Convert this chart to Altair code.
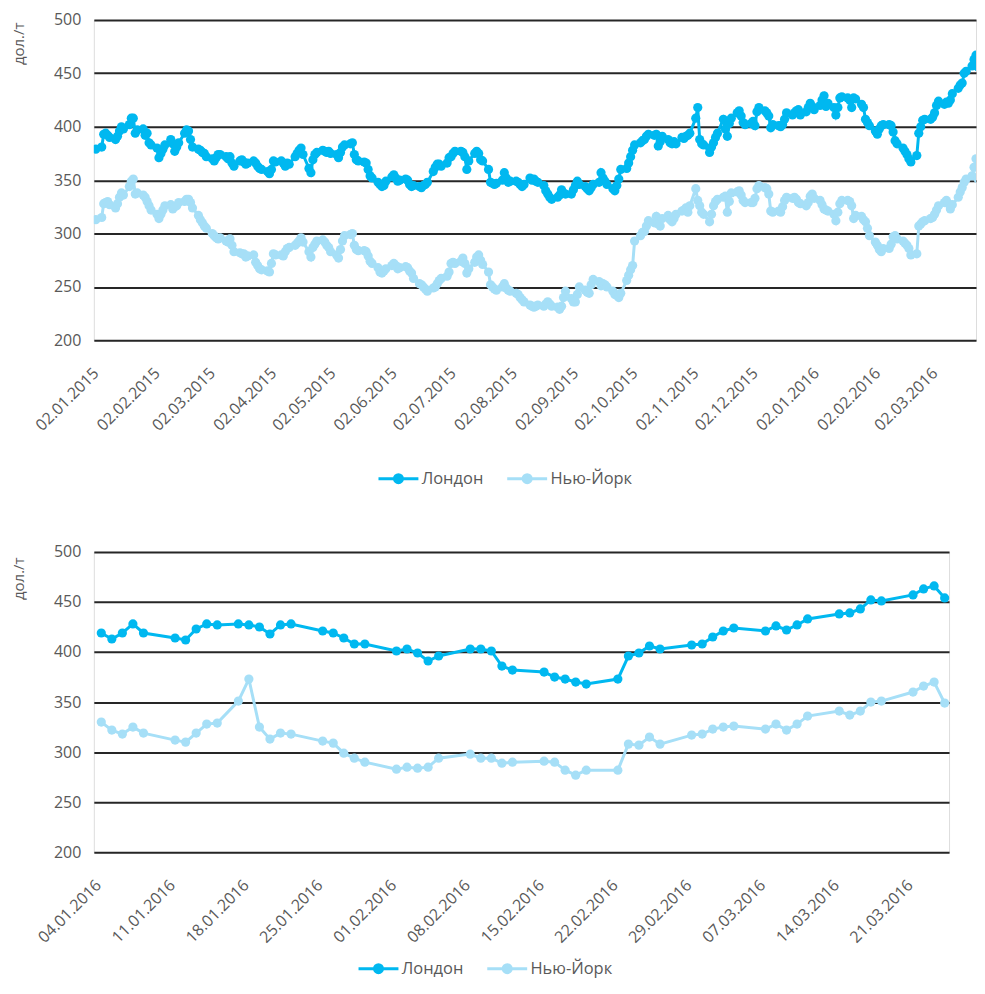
import altair as alt
import pandas as pd

series_names = ["Лондон", "Нью-Йорк"]
series_colors = ["#00B8F0", "#A6DFF7"]
y_ticks = [200, 250, 300, 350, 400, 450, 500]
unit_label = "дол./т"

# ---------- top chart: daily quotes, 02.01.2015 - 24.03.2016 (business days) ----------
top_london = [
    379,
    381, 393, 394, 392, 390,
    388, 391, 396, 400, 398,
    402, 408, 408, 394, 397,
    398, 392, 394, 385, 383,
    380, 371, 375, 379, 383,
    388, 384, 377, 381, 385,
    394, 397, 396, 388, 381,
    379, 378, 376, 375, 372,
    370, 368, 371, 374, 374,
    372, 370, 372, 366, 363,
    368, 369, 367, 365, 366,
    368, 366, 363, 361, 360,
    358, 356, 360, 368, 367,
    368, 366, 363, 366, 365,
    372, 375, 378, 380, 374,
    361, 357, 369, 374, 376,
    378, 377, 376, 377, 375,
    374, 371, 376, 381, 383,
    384, 385, 374, 369, 368,
    367, 366, 360, 354, 352,
    348, 346, 344, 345, 349,
    353, 355, 352, 349, 350,
    351, 350, 346, 344, 345,
    344, 343, 345, 346, 348,
    358, 362, 365, 365, 363,
    366, 371, 372, 375, 377,
    377, 376, 372, 360, 368,
    375, 377, 375, 369, 368,
    360, 348, 347, 346, 347,
    350, 357, 352, 348, 349,
    349, 348, 346, 344, 346,
    352, 350, 351, 349, 348,
    345, 340, 337, 334, 332,
    334, 336, 341, 338, 337,
    337, 341, 345, 349, 346,
    344, 342, 340, 343, 346,
    348, 357, 352, 349, 346,
    342, 340, 345, 351, 360,
    361, 366, 372, 378, 383,
    385, 387, 388, 391, 393,
    392, 393, 382, 386, 391,
    388, 385, 384, 386, 384,
    390, 389, 391, 392, 394,
    408, 418, 388, 384, 383,
    376, 381, 385, 390, 394,
    407, 398, 391, 403, 408,
    413, 415, 410, 404, 402,
    403, 405, 401, 414, 418,
    415, 413, 410, 399, 402,
    401, 400, 402, 407, 413,
    411, 413, 415, 416, 411,
    414, 418, 422, 419, 416,
    420, 425, 429, 419, 422,
    418, 411, 418, 427, 428,
    427, 425, 418, 427, 426,
    421, 418, 407, 404, 401,
    396, 393, 398, 401, 402,
    402, 401, 395, 387, 384,
    380, 377, 374, 370, 367,
    373, 394, 400, 406, 407,
    407, 409, 413, 420, 424,
    421, 423, 422, 425, 431,
    436, 439, 441, 450, 452,
    457, 463, 467, 456,
]
top_new_york = [
    313,
    315, 328, 329, 330, 327,
    324, 328, 334, 338, 336,
    344, 349, 351, 337, 338,
    336, 334, 330, 326, 322,
    318, 314, 318, 322, 326,
    327, 323, 325, 326, 329,
    330, 332, 332, 329, 324,
    317, 313, 310, 307, 305,
    300, 298, 296, 295, 296,
    293, 292, 295, 289, 283,
    282, 281, 281, 278, 279,
    280, 273, 270, 267, 266,
    265, 264, 272, 281, 280,
    280, 279, 283, 286, 287,
    289, 291, 293, 296, 292,
    283, 278, 287, 290, 293,
    294, 292, 289, 287, 283,
    280, 277, 285, 293, 298,
    299, 300, 289, 285, 284,
    284, 283, 279, 274, 272,
    268, 264, 263, 265, 267,
    270, 272, 270, 267, 268,
    269, 268, 265, 263, 258,
    253, 252, 250, 248, 246,
    249, 250, 253, 256, 258,
    260, 264, 272, 273, 272,
    274, 277, 272, 263, 267,
    273, 278, 280, 275, 271,
    264, 252, 250, 248, 247,
    250, 253, 249, 247, 246,
    244, 243, 240, 238, 236,
    233, 232, 231, 232, 233,
    232, 234, 236, 234, 232,
    231, 229, 232, 240, 246,
    239, 236, 236, 243, 250,
    247, 245, 244, 252, 257,
    255, 251, 253, 252, 250,
    246, 243, 242, 240, 244,
    256, 261, 266, 270, 293,
    298, 301, 302, 307, 312,
    310, 316, 309, 307, 314,
    317, 313, 311, 314, 318,
    321, 322, 324, 320, 326,
    342, 331, 326, 320, 318,
    311, 318, 326, 330, 332,
    334, 335, 320, 330, 338,
    339, 340, 336, 331, 329,
    329, 329, 333, 342, 345,
    343, 342, 337, 321, 320,
    321, 320, 325, 331, 334,
    333, 334, 332, 329, 328,
    326, 329, 335, 337, 333,
    331, 327, 323, 322, 321,
    318, 312, 320, 328, 331,
    331, 330, 326, 314, 317,
    316, 313, 311, 305, 298,
    292, 289, 285, 283, 286,
    286, 290, 297, 298, 295,
    293, 291, 289, 286, 280,
    281, 307, 309, 311, 312,
    314, 315, 318, 322, 326,
    329, 331, 328, 323, 327,
    334, 339, 343, 348, 351,
    354, 362, 370, 351,
]
top_dates = [d.strftime("%Y-%m-%d") for d in pd.bdate_range("2015-01-02", "2016-03-24")]
top_tick_dates = [(2015, m, 2) for m in range(1, 13)] + [(2016, 1, 2), (2016, 2, 2), (2016, 3, 2)]

# ---------- bottom chart: 04.01.2016 - 24.03.2016 ----------
bottom_dates = [
    "2016-01-04", "2016-01-05", "2016-01-06", "2016-01-07", "2016-01-08",
    "2016-01-11", "2016-01-12", "2016-01-13", "2016-01-14", "2016-01-15",
    "2016-01-17", "2016-01-18", "2016-01-19", "2016-01-20", "2016-01-21", "2016-01-22",
    "2016-01-25", "2016-01-26", "2016-01-27", "2016-01-28", "2016-01-29",
    "2016-02-01", "2016-02-02", "2016-02-03", "2016-02-04", "2016-02-05",
    "2016-02-08", "2016-02-09", "2016-02-10", "2016-02-11", "2016-02-12",
    "2016-02-15", "2016-02-16", "2016-02-17", "2016-02-18", "2016-02-19",
    "2016-02-22", "2016-02-23", "2016-02-24", "2016-02-25", "2016-02-26",
    "2016-02-29", "2016-03-01", "2016-03-02", "2016-03-03", "2016-03-04",
    "2016-03-07", "2016-03-08", "2016-03-09", "2016-03-10", "2016-03-11",
    "2016-03-14", "2016-03-15", "2016-03-16", "2016-03-17", "2016-03-18",
    "2016-03-21", "2016-03-22", "2016-03-23", "2016-03-24",
]
bottom_london = [
    419, 413, 419, 428, 419,
    414, 412, 423, 428, 427,
    428, 427, 425, 418, 427, 428,
    421, 419, 414, 408, 408,
    401, 403, 399, 391, 396,
    403, 403, 401, 386, 382,
    380, 375, 373, 370, 368,
    373, 396, 399, 406, 403,
    407, 408, 415, 421, 424,
    421, 426, 422, 427, 433,
    438, 439, 443, 452, 451,
    457, 463, 466, 454,
]
bottom_new_york = [
    330, 322, 318, 325, 319,
    312, 310, 319, 328, 329,
    351, 373, 325, 313, 319, 318,
    311, 309, 299, 294, 290,
    283, 285, 284, 285, 294,
    298, 294, 294, 289, 290,
    291, 290, 282, 277, 282,
    282, 308, 307, 315, 308,
    317, 318, 323, 325, 326,
    323, 328, 322, 328, 336,
    341, 337, 341, 350, 351,
    360, 366, 370, 349,
]
bottom_tick_dates = [
    (2016, 1, 4), (2016, 1, 11), (2016, 1, 18), (2016, 1, 25),
    (2016, 2, 1), (2016, 2, 8), (2016, 2, 15), (2016, 2, 22),
    (2016, 2, 29), (2016, 3, 7), (2016, 3, 14), (2016, 3, 21),
]

FONT = "Open Sans"
TEXT = "#595959"
GRID = "#262626"


def long_frame(dates, a, b):
    return pd.DataFrame({
        "date": list(dates) + list(dates),
        "value": list(a) + list(b),
        "series": [series_names[0]] * len(a) + [series_names[1]] * len(b),
    })


def dt(y, m, d, h=0):
    return alt.DateTime(year=y, month=m, date=d, hours=h, utc=True)


# legend glyph: a line with a dot in the middle (size 100 -> 5 px per path unit)
legend_symbol = "M-4,0L4,0M-0.8,0A0.8,0.8,0,1,1,0.8,0A0.8,0.8,0,1,1,-0.8,0Z"


def panel(df, width, height, domain, ticks, label_pad, label_off, title_y,
          legend_x, legend_y, clip):
    x_axis = alt.Axis(values=[dt(*t) for t in ticks],
                      labelExpr="utcFormat(datum.value, '%d.%m.%Y')",
                      labelAngle=-45, labelAlign="right", labelBaseline="middle",
                      labelPadding=label_pad, labelOffset=label_off, labelFont=FONT,
                      labelFontSize=16, labelColor=TEXT, labelOverlap=False,
                      labelFlush=False, ticks=False, domain=False, grid=False, title=None)
    y_axis = alt.Axis(values=y_ticks, grid=True, gridColor=GRID, gridWidth=2,
                      domain=False, ticks=False, labelPadding=13, labelFont=FONT,
                      labelFontSize=16, labelColor=TEXT, title=unit_label,
                      titleFont=FONT, titleFontSize=15, titleFontWeight="normal",
                      titleColor=TEXT, titleX=-75, titleY=title_y, titleAlign="right",
                      titleBaseline="middle", titleAngle=270)
    legend = alt.Legend(orient="none", legendX=legend_x, legendY=legend_y,
                        direction="horizontal", title=None, symbolType=legend_symbol,
                        symbolSize=100, symbolStrokeWidth=3, labelFont=FONT,
                        labelFontSize=16.5, labelColor=TEXT, labelOffset=15,
                        columnPadding=17, symbolOpacity=1)
    base = alt.Chart(df).encode(
        x=alt.X("date:T", scale=alt.Scale(type="utc", domain=[dt(*domain[0]), dt(*domain[1])]),
                axis=x_axis),
        y=alt.Y("value:Q", scale=alt.Scale(domain=[200, 500], nice=False, zero=False), axis=y_axis),
        color=alt.Color("series:N", scale=alt.Scale(domain=series_names, range=series_colors),
                        legend=legend),
    )
    line = base.mark_line(strokeWidth=3, clip=clip)
    pts = base.mark_point(filled=True, size=85, opacity=1, clip=clip)
    return alt.layer(line, pts).properties(width=width, height=height)


top = panel(long_frame(top_dates, top_london, top_new_york), 884, 321,
            ((2015, 1, 1, 0), (2016, 3, 23, 0)), top_tick_dates, 30, 0, 2, 297, 451, True)
bottom = panel(long_frame(bottom_dates, bottom_london, bottom_new_york), 857, 301,
               ((2016, 1, 3, 7), (2016, 3, 24, 10)), bottom_tick_dates, 30, -3, 5,
               277, 409, False)

chart = alt.vconcat(top, bottom, spacing=53).resolve_scale(
    color="independent").resolve_legend(color="independent").properties(
    padding={"left": 3, "top": 2, "right": 0, "bottom": 0}
).configure_view(stroke=None).configure(font=FONT)

chart.save("out.html", embed_options={"renderer": "svg", "actions": False})
